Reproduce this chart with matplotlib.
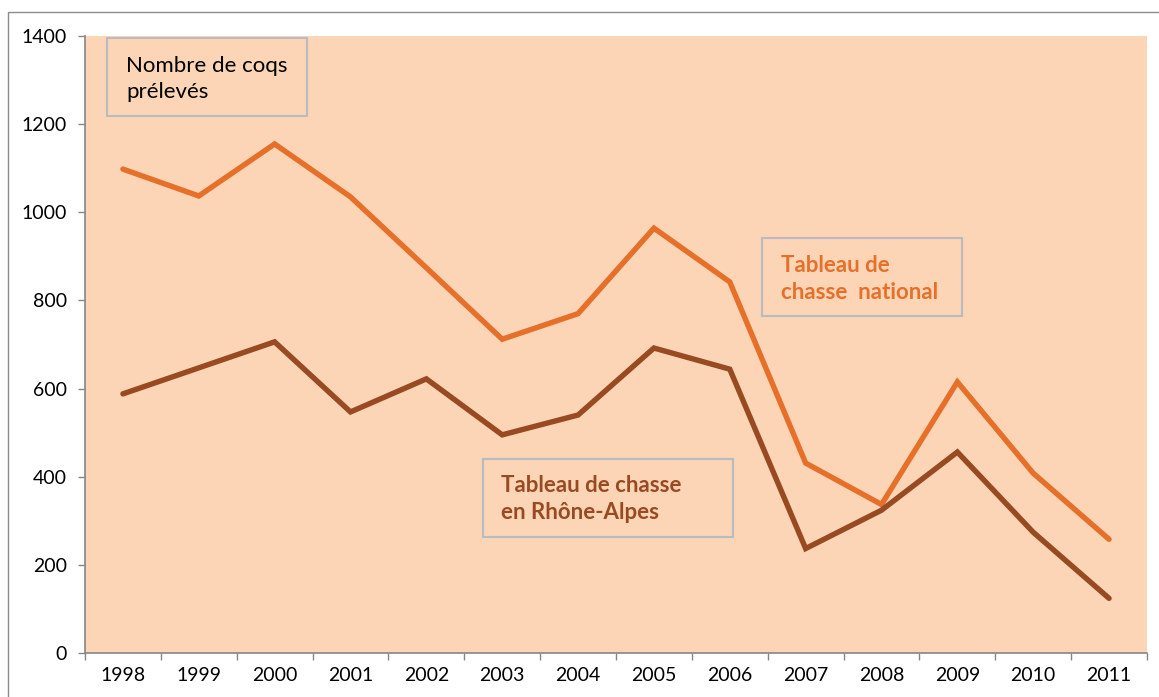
import matplotlib
matplotlib.use("Agg")
import matplotlib.pyplot as plt
from matplotlib.patches import Rectangle
import numpy as np

years = ["1998", "1999", "2000", "2001", "2002", "2003", "2004",
         "2005", "2006", "2007", "2008", "2009", "2010", "2011"]
national = [1098, 1037, 1155, 1035, 874, 712, 770, 964, 842, 431, 337, 615, 408, 258]
rhone_alpes = [588, 647, 706, 547, 622, 495, 540, 692, 644, 237, 324, 456, 274, 124]
y_ticks = [0, 200, 400, 600, 800, 1000, 1200, 1400]

plt.rcParams['font.family'] = ['Lato', 'DejaVu Sans']

W, H = 1159, 697
fig = plt.figure(figsize=(W / 100, H / 100), dpi=100)
fig.patch.set_facecolor('white')

def fx(px):
    return px / W

def fy(py):
    return 1 - py / H

# outer border
fig.add_artist(Rectangle((fx(8), fy(720)), fx(1170) - fx(8), fy(12) - fy(720),
                         transform=fig.transFigure, fill=False,
                         edgecolor='#8C8C8C', linewidth=1.0))

ax = fig.add_axes([fx(85), fy(653), fx(1147) - fx(85), fy(36) - fy(653)])
bg = '#FBD5B5'
ax.set_facecolor(bg)

x = np.arange(len(years))
ax.plot(x, national, color='#E6702A', linewidth=3.9, solid_capstyle='round',
        solid_joinstyle='miter')
ax.plot(x, rhone_alpes, color='#984A22', linewidth=3.9, solid_capstyle='round',
        solid_joinstyle='miter')

ax.set_xlim(-0.5, len(years) - 0.5)
ax.set_ylim(0, 1400)
ax.set_yticks(y_ticks)
ax.set_yticklabels([str(v) for v in y_ticks], fontsize=14, color='black')
ax.set_xticks(x)
ax.set_xticklabels(years, fontsize=14, color='black')
ax.set_xticks(np.arange(-0.5, len(years)), minor=True)
ax.tick_params(axis='x', which='major', length=0, pad=10)
ax.tick_params(axis='x', which='minor', length=5, color='#868686', width=1)
ax.tick_params(axis='y', which='major', length=5, color='#868686', width=1, pad=8)

for s in ['top', 'right']:
    ax.spines[s].set_visible(False)
for s in ['left', 'bottom']:
    ax.spines[s].set_color('#868686')
    ax.spines[s].set_linewidth(1.2)

box_edge = '#B8BCC0'

def add_box(x0, y0, x1, y1):
    fig.add_artist(Rectangle((fx(x0), fy(y1)), fx(x1) - fx(x0), fy(y0) - fy(y1),
                             transform=fig.transFigure, facecolor=bg,
                             edgecolor=box_edge, linewidth=1.5, zorder=5))

add_box(107, 38, 307, 116)
fig.text(fx(126), fy(79), "Nombre de coqs\nprélevés", fontsize=16, color='black',
         ha='left', va='center', linespacing=1.38, zorder=6)

add_box(762, 238, 962, 316)
fig.text(fx(781), fy(279), "Tableau de\nchasse  national", fontsize=16,
         color='#E6702A', fontweight='bold', ha='left', va='center',
         linespacing=1.38, zorder=6)

add_box(483, 459, 733, 537)
fig.text(fx(501), fy(499), "Tableau de chasse\nen Rhône-Alpes", fontsize=16,
         color='#984A22', fontweight='bold', ha='left', va='center',
         linespacing=1.38, zorder=6)

fig.savefig("out.png", dpi=100)
